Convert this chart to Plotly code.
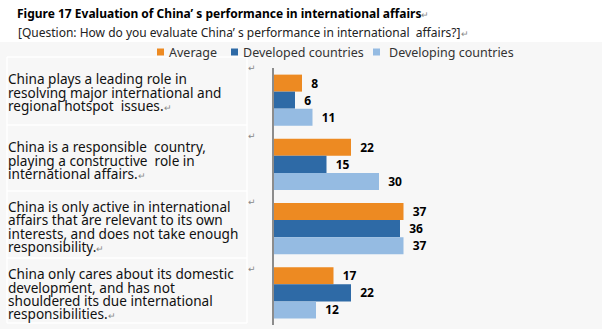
import plotly.graph_objects as go

categories = [
    "China plays a leading role in resolving major international and regional hotspot issues.",
    "China is a responsible country, playing a constructive role in international affairs.",
    "China is only active in international affairs that are relevant to its own interests, and does not take enough responsibility.",
    "China only cares about its domestic development, and has not shouldered its due international responsibilities.",
]
label_lines = [
    ["China plays a leading role in", "resolving major international and", "regional hotspot  issues."],
    ["China is a responsible  country,", "playing a constructive  role in", "international affairs."],
    ["China is only active in international", "affairs that are relevant to its own", "interests, and does not take enough", "responsibility."],
    ["China only cares about its domestic", "development, and has not", "shouldered its due international", "responsibilities."],
]
series_names = ["Average", "Developed countries", "Developing countries"]
average = [8, 22, 37, 17]
developed = [6, 15, 36, 22]
developing = [11, 30, 37, 12]
colors = ["#ED8A22", "#2E6AA6", "#95BBE2"]

W, H = 602, 329
L, R, T, B = 274, 188, 68, 4
PW, PH = W - L - R, H - T - B

def px(x):
    return (x - L) / PW

def py(y):
    return 1 - (y - T) / PH

fig = go.Figure()
for name, vals, col in zip(series_names, [average, developed, developing], colors):
    fig.add_trace(go.Bar(
        y=categories, x=vals, orientation="h", name=name,
        marker=dict(color=col, line=dict(width=0)),
        text=vals, texttemplate="  %{x}", textposition="outside",
        textfont=dict(family="Noto Sans", size=12, color="#000000", weight="bold"),
        cliponaxis=False, showlegend=False,
    ))

shapes = []
ann = []
ret = "<span style='font-size:9px;color:#888'>↵</span>"
# gray background of chart area
shapes.append(dict(type="rect", xref="paper", yref="paper", x0=px(0), x1=px(W), y0=py(42), y1=py(H),
                   fillcolor="#F7F7F7", line=dict(width=0), layer="below"))
# table cell borders
row_edges = [57, 125, 191, 258, 323]
for y in row_edges:
    shapes.append(dict(type="line", xref="paper", yref="paper", x0=px(7), x1=px(247), y0=py(y), y1=py(y),
                       line=dict(color="#FFFFFF", width=1.5), layer="below"))
for x in [7, 247]:
    shapes.append(dict(type="line", xref="paper", yref="paper", x0=px(x), x1=px(x), y0=py(57), y1=py(323),
                       line=dict(color="#FFFFFF", width=1.5), layer="below"))

# title & subtitle
ann.append(dict(text="<b>Figure 17 Evaluation of China’ s performance in international affairs</b>" + ret,
                xref="paper", yref="paper", x=px(15), y=py(13), xanchor="left", yanchor="middle",
                showarrow=False, font=dict(family="Noto Sans", size=12, color="#000000")))
ann.append(dict(text="[Question: How do you evaluate China’ s performance in international  affairs?]" + ret,
                xref="paper", yref="paper", x=px(16), y=py(32), xanchor="left", yanchor="middle",
                showarrow=False, font=dict(family="Noto Sans", size=12, color="#222222")))

# legend (manual)
leg_x = [157, 231, 373]
leg_tx = [167, 241, 387]
for name, col, lx, tx in zip(series_names, colors, leg_x, leg_tx):
    shapes.append(dict(type="rect", xref="paper", yref="paper", x0=px(lx), x1=px(lx + 7),
                       y0=py(48.5), y1=py(55.5), fillcolor=col, line=dict(width=0)))
    ann.append(dict(text=name, xref="paper", yref="paper", x=px(tx), y=py(52),
                    xanchor="left", yanchor="middle", showarrow=False,
                    font=dict(family="Noto Sans", size=12.5, color="#333333")))

# category labels in table cells
line_ys = [[78, 92, 105.5], [146, 160, 173.5], [206, 219.5, 233, 246.5], [273.5, 287, 300, 313.5]]
for lines, ys, top in zip(label_lines, line_ys, row_edges[:-1]):
    for i, (t, y) in enumerate(zip(lines, ys)):
        if i == len(lines) - 1:
            t = t + ret
        ann.append(dict(text=t, xref="paper", yref="paper", x=px(6), y=py(y),
                        xanchor="left", yanchor="middle", showarrow=False,
                        font=dict(family="Noto Sans", size=13.6, color="#111111")))
    ann.append(dict(text="↵", xref="paper", yref="paper", x=px(252), y=py(top + 11),
                    xanchor="center", yanchor="middle", showarrow=False,
                    font=dict(family="DejaVu Sans", size=9, color="#888888")))

fig.update_layout(
    width=W, height=H,
    margin=dict(l=L, r=R, t=T, b=B, pad=0),
    paper_bgcolor="#FFFFFF", plot_bgcolor="rgba(0,0,0,0)",
    barmode="group", bargap=0.206, bargroupgap=0,
    shapes=shapes, annotations=ann,
    xaxis=dict(range=[0, 40], visible=False, fixedrange=True),
    yaxis=dict(autorange="reversed", showticklabels=False, ticks="",
               showline=True, linecolor="#8C8C8C", linewidth=1.5, showgrid=False, zeroline=False),
    showlegend=False,
)
fig.write_html("out.html")
